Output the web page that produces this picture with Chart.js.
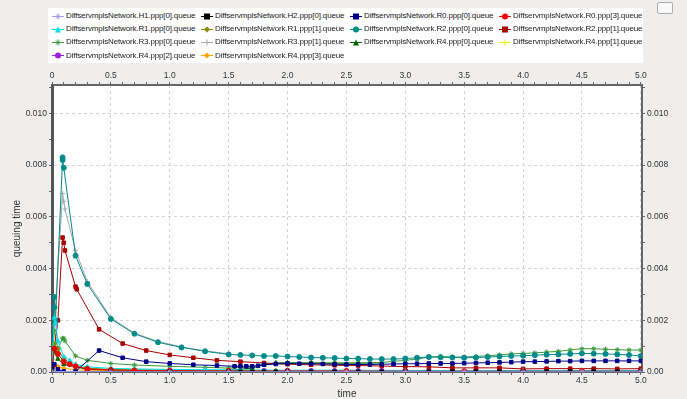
<!DOCTYPE html>
<html lang="en">
<head>
<meta charset="UTF-8">
<title>queuing time</title>
<script src="https://cdn.jsdelivr.net/npm/chart.js"></script>
<style>
    body { margin: 0; background: #efeeed; font-family: "Liberation Sans", Arial, sans-serif; }
    #wrap { position: relative; width: 687px; height: 399px; overflow: hidden; }
    #chart { position: absolute; left: 0; top: 0; }
    #legend { position: absolute; left: 48px; top: 8px; width: 595px; height: 55px; background: #fff; }
    .item { position: absolute; height: 10px; font-size: 8px; letter-spacing: -0.15px; line-height: 10px; color: #222; white-space: nowrap; display: flex; align-items: center; }
    .item canvas { margin-right: 2px; }
    #btn { position: absolute; left: 657px; top: 2px; width: 14px; height: 10px; border: 1px solid #aaa; border-radius: 2px; background: #f8f8f8; }
</style>
</head>
<body>
<div id="wrap">
    <canvas id="chart" width="687" height="399"></canvas>
    <div id="legend"></div>
    <div id="btn"></div>
</div>
<script>
// tick labels
const xTickLabels = ['0', '0.5', '1.0', '1.5', '2.0', '2.5', '3.0', '3.5', '4.0', '4.5', '5.0'];
const yTickLabels = ['0.00', '0.002', '0.004', '0.006', '0.008', '0.010'];

// series names
const seriesNames = [
    'DiffservmplsNetwork.H1.ppp[0].queue', 'DiffservmplsNetwork.H2.ppp[0].queue',
    'DiffservmplsNetwork.R0.ppp[0].queue', 'DiffservmplsNetwork.R0.ppp[3].queue',
    'DiffservmplsNetwork.R1.ppp[0].queue', 'DiffservmplsNetwork.R1.ppp[1].queue',
    'DiffservmplsNetwork.R2.ppp[0].queue', 'DiffservmplsNetwork.R2.ppp[1].queue',
    'DiffservmplsNetwork.R3.ppp[0].queue', 'DiffservmplsNetwork.R3.ppp[1].queue',
    'DiffservmplsNetwork.R4.ppp[0].queue', 'DiffservmplsNetwork.R4.ppp[1].queue',
    'DiffservmplsNetwork.R4.ppp[2].queue', 'DiffservmplsNetwork.R4.ppp[3].queue'
];

// values (time, queuing time)
const h1X = [0, 0.5, 1.0, 1.5, 2.0, 2.5, 3.0, 3.5, 4.0, 4.5, 5.0];
const h1Y = [0.00002, 0.00001, 0.00001, 0.00001, 0.00001, 0.00001, 0.00001, 0.00001, 0.00001, 0.00001, 0.00001];

const h2X = [0, 0.5, 1.0, 1.5, 1.6, 1.7, 1.8, 1.9, 2.0, 2.2, 2.4, 2.6, 2.8, 3.0, 3.2, 3.4, 3.6, 3.8, 4.0, 4.2, 4.4, 4.6, 4.8, 5.0];
const h2Y = [0.00001, 0.00001, 0.00001, 0.00001, 0.00001, 0.00001, 0.00001, 0.00001, 0.00001, 0.00001, 0.00001, 0.00001, 0.00001, 0.00001, 0.00001, 0.00001, 0.00001, 0.00001, 0.00001, 0.00001, 0.00001, 0.00001, 0.00001, 0.00001];

const r0p0X = [0, 0.02, 0.05, 0.1, 0.2, 0.4, 0.6, 0.8, 1.0, 1.2, 1.4, 1.55, 1.6, 1.65, 1.7, 1.75, 1.8, 1.9, 2.0, 2.1, 2.2, 2.3, 2.4, 2.5, 2.6, 2.7, 2.8, 2.9, 3.0, 3.1, 3.2, 3.3, 3.4, 3.5, 3.6, 3.7, 3.8, 3.9, 4.0, 4.1, 4.2, 4.3, 4.4, 4.5, 4.6, 4.7, 4.8, 4.9, 5.0];
const r0p0Y = [0.0001, 0.0003, 0.0001, 0.00002, 0.00002, 0.00083, 0.00055, 0.0004, 0.00033, 0.00028, 0.00025, 0.00022, 0.00022, 0.00022, 0.00022, 0.00024, 0.00028, 0.00031, 0.00033, 0.00032, 0.00032, 0.00031, 0.0003, 0.00029, 0.00029, 0.00029, 0.0003, 0.00031, 0.00032, 0.00032, 0.00033, 0.00033, 0.00033, 0.00034, 0.00035, 0.00036, 0.00037, 0.00038, 0.0004, 0.0004, 0.00041, 0.00042, 0.00042, 0.00043, 0.00043, 0.00043, 0.00043, 0.00043, 0.00043];

const r0p3X = [0, 0.02, 0.05, 0.1, 0.15, 0.2, 0.3, 0.5, 0.7, 1.0, 1.5, 2.0, 2.5, 3.0, 3.5, 4.0, 4.5, 5.0];
const r0p3Y = [0.0002, 0.0009, 0.0007, 0.0004, 0.0003, 0.00022, 0.00012, 0.00008, 0.00006, 0.00005, 0.00004, 0.00004, 0.00004, 0.00003, 0.00003, 0.00003, 0.00003, 0.00003];

const r1p0X = [0, 0.02, 0.03, 0.05, 0.1, 0.15, 0.2, 0.3, 0.5, 0.7, 1.0, 1.3, 1.6, 2.0, 2.5, 3.0, 3.5, 4.0, 4.5, 5.0];
const r1p0Y = [0.0002, 0.0021, 0.0019, 0.0012, 0.0006, 0.00045, 0.0003, 0.0002, 0.00014, 0.00012, 0.0001, 0.00009, 0.00008, 0.00007, 0.00007, 0.00006, 0.00006, 0.00006, 0.00006, 0.00006];

const r1p1X = [0, 0.02, 0.05, 0.1, 0.2, 0.3, 0.5, 0.7, 1.0, 1.3, 1.6, 1.9];
const r1p1Y = [0.0003, 0.0011, 0.0009, 0.0005, 0.00022, 0.00015, 0.0001, 0.00008, 0.00007, 0.00006, 0.00005, 0.00005];

const r2p0X = [0, 0.02, 0.02, 0.03, 0.09, 0.09, 0.1, 0.2, 0.3, 0.5, 0.7, 0.9, 1.1, 1.3, 1.5, 1.6, 1.7, 1.8, 1.9, 2.0, 2.1, 2.2, 2.3, 2.4, 2.5, 2.6, 2.7, 2.8, 2.9, 3.0, 3.1, 3.2, 3.3, 3.4, 3.5, 3.6, 3.7, 3.8, 3.9, 4.0, 4.1, 4.2, 4.3, 4.4, 4.5, 4.6, 4.7, 4.8, 4.9, 5.0];
const r2p0Y = [0.0002, 0.0029, 0.0025, 0.002, 0.0083, 0.0082, 0.0079, 0.0045, 0.0034, 0.00205, 0.00148, 0.00115, 0.00095, 0.0008, 0.00068, 0.00066, 0.00064, 0.00062, 0.00062, 0.0006, 0.00058, 0.00056, 0.00055, 0.00054, 0.00052, 0.00052, 0.0005, 0.0005, 0.0005, 0.00052, 0.00055, 0.00058, 0.00057, 0.00056, 0.00055, 0.00056, 0.00058, 0.0006, 0.00062, 0.00063, 0.00065, 0.00067, 0.00068, 0.0007, 0.00072, 0.00071, 0.0007, 0.00068, 0.00066, 0.00062];

const r2p1X = [0.02, 0.05, 0.09, 0.1, 0.11, 0.2, 0.21, 0.4, 0.6, 0.8, 1.0, 1.2, 1.4, 1.6, 1.8, 2.0, 2.2, 2.4, 2.6, 2.8, 3.0, 3.2, 3.4, 3.6, 3.8, 4.0, 4.2, 4.4, 4.6, 4.8, 5.0];
const r2p1Y = [0.0009, 0.002, 0.0052, 0.005, 0.0047, 0.0033, 0.0032, 0.00165, 0.0011, 0.00083, 0.00066, 0.00055, 0.00045, 0.0004, 0.00035, 0.0003, 0.00028, 0.00026, 0.00025, 0.00023, 0.00021, 0.0002, 0.00016, 0.00016, 0.00016, 0.00012, 0.00013, 0.00013, 0.00013, 0.00012, 0.00013];

const r3p0X = [0, 0.02, 0.05, 0.09, 0.1, 0.11, 0.2, 0.3, 0.5, 0.7, 1.0, 1.3, 1.5, 1.7, 1.8, 1.9, 2.0, 2.2, 2.4, 2.6, 2.8, 3.0, 3.1, 3.2, 3.3, 3.4, 3.5, 3.6, 3.7, 3.8, 3.9, 4.0, 4.1, 4.2, 4.3, 4.4, 4.5, 4.6, 4.7, 4.8, 4.9, 5.0];
const r3p0Y = [0.0005, 0.0016, 0.0009, 0.0013, 0.0013, 0.0012, 0.00062, 0.00045, 0.00033, 0.00027, 0.00022, 0.00018, 0.00015, 0.0002, 0.00028, 0.00033, 0.00035, 0.00035, 0.00035, 0.00035, 0.00037, 0.00045, 0.0005, 0.00058, 0.0006, 0.00058, 0.00058, 0.0006, 0.00063, 0.00066, 0.0007, 0.00072, 0.00074, 0.00077, 0.0008, 0.00085, 0.0009, 0.0009, 0.00088, 0.00086, 0.00085, 0.00085];

const r3p1X = [0, 0.02, 0.09, 0.1, 0.11, 0.2, 0.3, 0.5, 0.7, 0.9, 1.1, 1.3, 1.5];
const r3p1Y = [0.0002, 0.0018, 0.0069, 0.0066, 0.0063, 0.0047, 0.0035, 0.0021, 0.0015, 0.00118, 0.00097, 0.00082, 0.0007];

const r4p0X = [0, 0.02, 0.05, 0.1, 0.3, 0.5, 1.0, 1.5, 1.7, 1.8, 1.9, 2.0, 2.2, 2.4, 2.6, 2.8];
const r4p0Y = [0.0002, 0.0008, 0.0005, 0.0003, 0.0001, 0.00008, 0.00006, 0.00006, 0.00015, 0.0003, 0.00035, 0.00036, 0.00035, 0.00034, 0.00034, 0.00035];

const r4p1X = [1.55, 1.6, 1.65, 1.7, 1.75];
const r4p1Y = [0.00008, 0.00008, 0.00007, 0.00007, 0.00006];

const r4p2X = [1.8, 2.0, 2.2, 2.4, 2.6, 2.8, 3.0, 3.2, 3.4, 3.6, 3.8, 4.0, 4.2, 4.4, 4.6, 4.8, 5.0];
const r4p2Y = [0.00004, 0.00004, 0.00004, 0.00004, 0.00004, 0.00004, 0.00004, 0.00004, 0.00004, 0.00004, 0.00004, 0.00004, 0.00004, 0.00004, 0.00004, 0.00004, 0.00004];

const r4p3X = [0, 0.05, 0.1, 0.2, 0.5, 1.0, 1.5, 2.0, 3.0, 4.0, 5.0];
const r4p3Y = [0.0001, 0.0002, 0.00015, 0.00008, 0.00005, 0.00004, 0.00004, 0.00003, 0.00003, 0.00003, 0.00003];

const seriesX = [h1X, h2X, r0p0X, r0p3X, r1p0X, r1p1X, r2p0X, r2p1X, r3p0X, r3p1X, r4p0X, r4p1X, r4p2X, r4p3X];
const seriesY = [h1Y, h2Y, r0p0Y, r0p3Y, r1p0Y, r1p1Y, r2p0Y, r2p1Y, r3p0Y, r3p1Y, r4p0Y, r4p1Y, r4p2Y, r4p3Y];
const colors = ['#9c9cf0', '#000000', '#000088', '#ee0000', '#00e0e8', '#888800', '#008b8b', '#aa0000',
                '#3a9a3a', '#aaaaaa', '#006400', '#f0f000', '#9a20e0', '#ffa500'];
const shapes = ['star', 'rect', 'rect', 'circle', 'triangle', 'rectRot', 'circle', 'rect',
                'star', 'cross', 'triangle', 'cross', 'circle', 'rectRot'];

const datasets = seriesNames.map((name, i) => ({
    label: name,
    data: seriesX[i].map((x, j) => ({ x: x, y: seriesY[i][j] })),
    borderColor: colors[i],
    backgroundColor: colors[i],
    borderWidth: 1,
    pointStyle: shapes[i],
    pointRadius: 2.5,
    pointBorderWidth: 1,
    xAxisID: 'x',
    yAxisID: 'y'
}));

// legend
function drawMarker(c, color, shape) {
    const g = c.getContext('2d');
    g.strokeStyle = color; g.fillStyle = color; g.lineWidth = 1;
    g.beginPath(); g.moveTo(0, 4.5); g.lineTo(12, 4.5); g.stroke();
    const x = 6, y = 4.5, r = 3;
    g.beginPath();
    if (shape === 'circle') { g.arc(x, y, r, 0, Math.PI * 2); g.fill(); }
    else if (shape === 'rect') { g.fillRect(x - r, y - r, 2 * r, 2 * r); }
    else if (shape === 'rectRot') { g.moveTo(x, y - r); g.lineTo(x + r, y); g.lineTo(x, y + r); g.lineTo(x - r, y); g.fill(); }
    else if (shape === 'triangle') { g.moveTo(x, y - r); g.lineTo(x + r, y + r); g.lineTo(x - r, y + r); g.fill(); }
    else if (shape === 'cross') { g.moveTo(x - r, y); g.lineTo(x + r, y); g.moveTo(x, y - r); g.lineTo(x, y + r); g.stroke(); }
    else { g.moveTo(x - r, y); g.lineTo(x + r, y); g.moveTo(x, y - r); g.lineTo(x, y + r);
           g.moveTo(x - 2, y - 2); g.lineTo(x + 2, y + 2); g.moveTo(x + 2, y - 2); g.lineTo(x - 2, y + 2); g.stroke(); }
}
const legend = document.getElementById('legend');
seriesNames.forEach((name, i) => {
    const div = document.createElement('div');
    div.className = 'item';
    div.style.left = (4 + (i % 4) * 149) + 'px';
    div.style.top = (3 + Math.floor(i / 4) * 13.2) + 'px';
    const c = document.createElement('canvas');
    c.width = 12; c.height = 9;
    drawMarker(c, colors[i], shapes[i]);
    div.appendChild(c);
    div.appendChild(document.createTextNode(name));
    legend.appendChild(div);
});

function labelFor(list, v) {
    const l = list.find(s => Math.abs(parseFloat(s) - v) < 1e-7);
    return l === undefined ? '' : l;
}
const isMajorX = v => xTickLabels.some(s => Math.abs(parseFloat(s) - v) < 1e-7);
const isMajorY = v => yTickLabels.some(s => Math.abs(parseFloat(s) - v) < 1e-9);

const tickFont = { family: 'Liberation Sans, Arial, sans-serif', size: 8.5 };
const titleFont = { family: 'Liberation Sans, Arial, sans-serif', size: 10, lineHeight: 1 };
function xAxis(pos, h, main) {
    return {
        type: 'linear', position: pos, min: 0, max: 5.01,
        afterFit: s => { s.height = h; },
        ticks: { stepSize: 0.1, autoSkip: false, maxRotation: 0, includeBounds: false, padding: 1, color: '#333', font: tickFont,
                 callback: v => labelFor(xTickLabels, v) },
        grid: { drawOnChartArea: main, color: c => isMajorX(c.tick.value) ? '#d4d4d4' : 'rgba(0,0,0,0)',
                tickColor: '#666', tickLength: 3, tickBorderDash: [] },
        border: { color: '#666', width: 2, dash: [3, 3] },
        title: { display: main, text: 'time', color: '#333', font: titleFont, padding: { top: 0, bottom: 0 } }
    };
}
function yAxis(pos, w, main) {
    return {
        type: 'linear', position: pos, min: 0, max: 0.0111,
        afterFit: s => { s.width = w; },
        ticks: { stepSize: 0.001, autoSkip: false, includeBounds: false, padding: 2, color: '#333', font: tickFont,
                 callback: v => labelFor(yTickLabels, v) },
        grid: { drawOnChartArea: main, color: c => isMajorY(c.tick.value) ? '#d4d4d4' : 'rgba(0,0,0,0)',
                tickColor: '#666', tickLength: 3, tickBorderDash: [] },
        border: { color: main ? '#555' : '#666', width: main ? 3 : 2, dash: [3, 3] },
        title: { display: main, text: 'queuing time', color: '#333', font: titleFont, padding: { top: 12, bottom: 0 } }
    };
}

const plotBg = {
    id: 'plotBg',
    beforeDraw(chart) {
        const a = chart.chartArea, g = chart.ctx;
        g.save(); g.fillStyle = '#ffffff'; g.fillRect(a.left, a.top, a.right - a.left, a.bottom - a.top); g.restore();
    }
};

new Chart(document.getElementById('chart'), {
    type: 'line',
    data: { datasets: datasets },
    options: {
        responsive: false,
        animation: false,
        layout: { padding: { top: 64, left: 0, right: 0, bottom: 0 } },
        plugins: { legend: { display: false }, tooltip: { enabled: false } },
        scales: {
            x: xAxis('bottom', 27, true),
            x2: xAxis('top', 21, false),
            y: yAxis('left', 52, true),
            y2: yAxis('right', 45, false)
        }
    },
    plugins: [plotBg]
});
</script>
</body>
</html>
